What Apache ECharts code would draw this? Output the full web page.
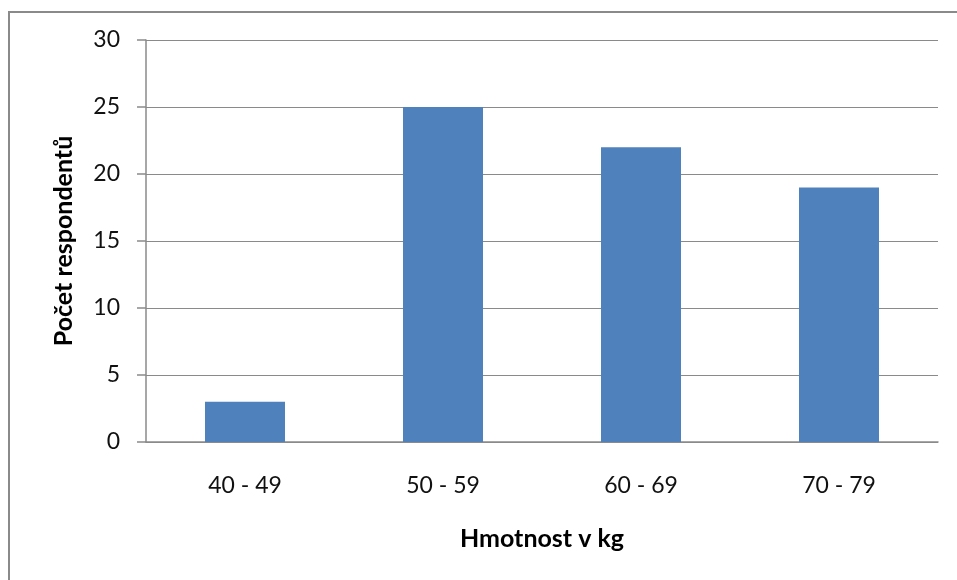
<!DOCTYPE html>
<html>
<head>
<meta charset="utf-8">
<script src="https://cdn.jsdelivr.net/npm/echarts@6/dist/echarts.min.js"></script>
<style>
  html, body { margin: 0; padding: 0; background: #fff; }
  #chart { width: 957px; height: 580px; }
</style>
</head>
<body>
<div id="chart"></div>
<script>
// Weight groups and respondent counts
const categories = ['40 - 49', '50 - 59', '60 - 69', '70 - 79'];
const counts = [3, 25, 22, 19];
const yTicks = { min: 0, max: 30, interval: 5 };

const font = 'Lato, "Open Sans", sans-serif';
const chart = echarts.init(document.getElementById('chart'), null, { renderer: 'canvas' });

chart.setOption({
  animation: false,
  graphic: [{
    type: 'rect',
    shape: { x: 9, y: 12, width: 970, height: 600 },
    style: { fill: 'none', stroke: '#8a8a8a', lineWidth: 2 },
    silent: true
  }],
  grid: { left: 146, right: 19, top: 40, bottom: 138, containLabel: false },
  xAxis: {
    type: 'category',
    data: categories,
    name: 'Hmotnost v kg',
    nameLocation: 'middle',
    nameGap: 84,
    nameTextStyle: { fontFamily: font, fontSize: 25, fontWeight: 'bold', color: '#000' },
    axisLine: { lineStyle: { color: '#8a8a8a', width: 1.5 } },
    axisTick: { show: false },
    axisLabel: { fontFamily: font, fontSize: 23, color: '#111', margin: 32 }
  },
  yAxis: {
    type: 'value',
    min: yTicks.min,
    max: yTicks.max,
    interval: yTicks.interval,
    name: 'Počet respondentů',
    nameLocation: 'middle',
    nameGap: 70,
    nameRotate: 90,
    nameTextStyle: { fontFamily: font, fontSize: 25, fontWeight: 'bold', color: '#000' },
    axisLine: { show: true, lineStyle: { color: '#8a8a8a', width: 1.5 } },
    axisTick: { show: true, length: 9, lineStyle: { color: '#8a8a8a', width: 1.5 } },
    axisLabel: { fontFamily: font, fontSize: 23, color: '#111', margin: 26 },
    splitLine: { lineStyle: { color: '#8a8a8a', width: 1.2 } }
  },
  series: [{
    type: 'bar',
    data: counts,
    barWidth: 80,
    itemStyle: { color: '#4f81bd' }
  }]
});
</script>
</body>
</html>
